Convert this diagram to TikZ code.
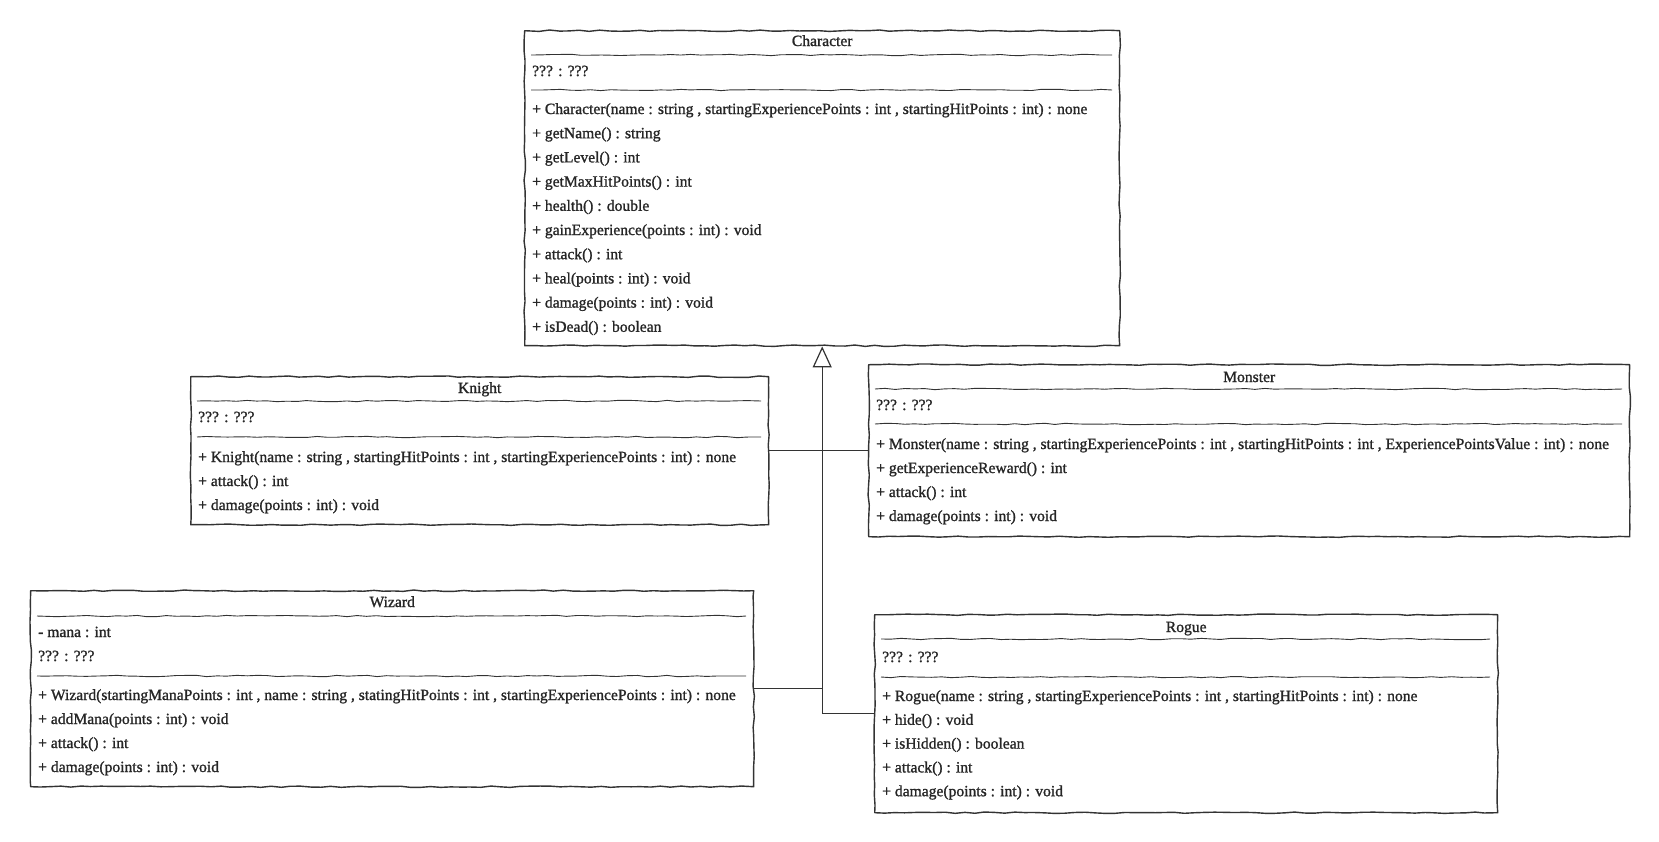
\documentclass[tikz,border=0pt]{standalone}
\usepackage{fontspec}
\setmainfont{Liberation Serif}[FakeBold=1.2]
\usetikzlibrary{arrows.meta, positioning, calc, decorations.pathmorphing}
\definecolor{inkline}{HTML}{333333}
\definecolor{inktext}{HTML}{262626}

\begin{document}
\begin{tikzpicture}[
        x=1pt, y=-1pt,
        font=\fontsize{15.6}{18}\selectfont,
        sketch/.style={
            decorate,
            decoration={random steps, segment length=10pt, amplitude=0.7pt}
        },
        classbox/.style={
            rectangle,
            draw=inkline,
            line width=1.4pt,
            line join=round,
            sketch,
            anchor=north west,
            inner sep=0pt
        },
        sepline/.style={draw=inkline, line width=0.9pt, line join=round, sketch},
        classname/.style={text=inktext, anchor=center, inner sep=0pt, text height=11pt, text depth=3pt},
        member/.style={text=inktext, anchor=west, inner sep=0pt, text height=11pt, text depth=3pt},
        edge/.style={draw=inkline, line width=1.2pt},
        inherit/.style={draw=inkline, line width=1.2pt, -{Triangle[open, length=21pt, width=19pt]}}
    ]

    % canvas
    \fill[white] (0,0) rectangle (1659,841);
    \useasboundingbox (0,0) rectangle (1659,841);
    \pgfmathsetseed{7}

    % Character
    \node[classbox, minimum width=595pt, minimum height=315pt] (character) at (524,30) {};
    \node[classname] (character-title) at (character.north |- 0,42) {Character};
    \draw[sepline] (531,55) -- (1112,55);
    \node[member] (character-attr) at (532,72) {??? : ???};
    \draw[sepline] (531,90) -- (1112,90);
    \foreach \txt [count=\i] in {
        {+ Character(name : string , startingExperiencePoints : int , startingHitPoints : int) : none},
        {+ getName() : string},
        {+ getLevel() : int},
        {+ getMaxHitPoints() : int},
        {+ health() : double},
        {+ gainExperience(points : int) : void},
        {+ attack() : int},
        {+ heal(points : int) : void},
        {+ damage(points : int) : void},
        {+ isDead() : boolean}}
        \node[member] (character-op\i) at (532, {110+24.2*(\i-1)}) {\txt};

    % Knight
    \node[classbox, minimum width=578pt, minimum height=148pt] (knight) at (190,376) {};
    \node[classname] (knight-title) at (knight.north |- 0,389) {Knight};
    \draw[sepline] (197,401) -- (761,401);
    \node[member] (knight-attr) at (198,418) {??? : ???};
    \draw[sepline] (197,437) -- (761,437);
    \foreach \txt [count=\i] in {
        {+ Knight(name : string , startingHitPoints : int , startingExperiencePoints : int) : none},
        {+ attack() : int},
        {+ damage(points : int) : void}}
        \node[member] (knight-op\i) at (198, {458+24*(\i-1)}) {\txt};

    % Monster
    \node[classbox, minimum width=761pt, minimum height=172pt] (monster) at (868,364) {};
    \node[classname] (monster-title) at (monster.north |- 0,378) {Monster};
    \draw[sepline] (875,389) -- (1622,389);
    \node[member] (monster-attr) at (876,406) {??? : ???};
    \draw[sepline] (875,424) -- (1622,424);
    \foreach \txt [count=\i] in {
        {+ Monster(name : string , startingExperiencePoints : int , startingHitPoints : int , ExperiencePointsValue : int) : none},
        {+ getExperienceReward() : int},
        {+ attack() : int},
        {+ damage(points : int) : void}}
        \node[member] (monster-op\i) at (876, {445+24*(\i-1)}) {\txt};

    % Wizard
    \node[classbox, minimum width=723pt, minimum height=196pt] (wizard) at (30,590) {};
    \node[classname] (wizard-title) at (wizard.north |- 0,603) {Wizard};
    \draw[sepline] (37,616) -- (746,616);
    \node[member] (wizard-attr1) at (38,633) {- mana : int};
    \node[member] (wizard-attr2) at (38,657) {??? : ???};
    \draw[sepline] (37,676) -- (746,676);
    \foreach \txt [count=\i] in {
        {+ Wizard(startingManaPoints : int , name : string , statingHitPoints : int , startingExperiencePoints : int) : none},
        {+ addMana(points : int) : void},
        {+ attack() : int},
        {+ damage(points : int) : void}}
        \node[member] (wizard-op\i) at (38, {696+24*(\i-1)}) {\txt};

    % Rogue
    \node[classbox, minimum width=623pt, minimum height=198pt] (rogue) at (874,614) {};
    \node[classname] (rogue-title) at (rogue.north |- 0,628) {Rogue};
    \draw[sepline] (881,639) -- (1490,639);
    \node[member] (rogue-attr) at (882,658) {??? : ???};
    \draw[sepline] (881,677) -- (1490,677);
    \foreach \txt [count=\i] in {
        {+ Rogue(name : string , startingExperiencePoints : int , startingHitPoints : int) : none},
        {+ hide() : void},
        {+ isHidden() : boolean},
        {+ attack() : int},
        {+ damage(points : int) : void}}
        \node[member] (rogue-op\i) at (882, {697+23.8*(\i-1)}) {\txt};

    % Generalisation
    \coordinate (joint) at ([yshift=-22pt]character.south);
    \draw[edge] (knight.east) -| (joint);
    \draw[edge] (monster.west) -| (joint);
    \draw[edge] (wizard.east) -| (joint);
    \draw[edge] (rogue.west) -| (joint);
    \draw[inherit] (joint) -- (character.south);

\end{tikzpicture}
\end{document}
